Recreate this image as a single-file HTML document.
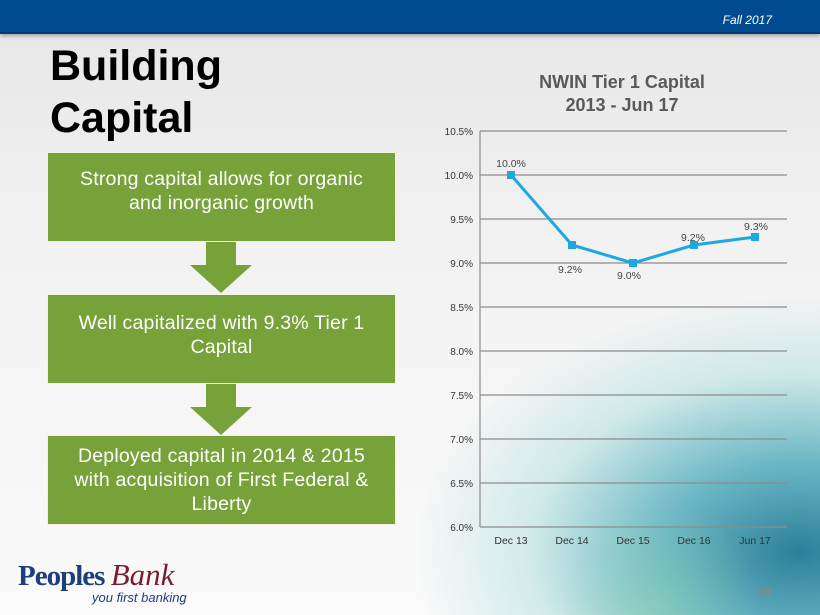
<!DOCTYPE html>
<html><head><style>
body{margin:0;width:820px;height:615px;overflow:hidden;font-family:"Liberation Sans",sans-serif;}
#pg{position:relative;width:820px;height:615px;background:linear-gradient(180deg,#e6e6e6 0%,#f2f2f2 40%,#fafafa 100%);overflow:hidden}
.bar{position:absolute;left:0;top:0;width:820px;height:32px;background:#004b8f;border-bottom:2px solid #0a3a6a;box-shadow:0 2px 4px rgba(0,0,0,.3)}
.fall{position:absolute;right:48px;top:13px;color:#fff;font-style:italic;font-size:12px}
.deco{position:absolute;left:420px;top:300px;width:400px;height:315px;background:radial-gradient(ellipse at 95% 80%,#2d7f9a 0%,#6bb7c5 25%,rgba(175,222,220,.55) 50%,rgba(255,255,255,0) 72%)}
.deco2{position:absolute;left:560px;top:500px;width:200px;height:115px;background:radial-gradient(ellipse at 50% 90%,rgba(140,210,170,.45),rgba(255,255,255,0) 70%)}
h1{position:absolute;left:50px;top:40px;margin:0;font-size:43px;line-height:52px;font-weight:bold;color:#000}
.box{position:absolute;left:47px;width:349px;height:90px;background:#77a23a;border:1px solid #eef3e3;color:#fff;font-size:19.5px;letter-spacing:0.2px;text-align:center;display:flex;align-items:center;justify-content:center;line-height:24px;box-sizing:border-box;padding:0 2px;white-space:nowrap}
.arr{position:absolute;left:190px;width:0;height:0;border-left:31px solid transparent;border-right:31px solid transparent;border-top:28px solid #77a23a}
.arrs{position:absolute;left:206px;width:30px;background:#77a23a}
.logo{position:absolute;left:18px;top:558px;font-family:"Liberation Serif",serif;font-weight:bold;font-size:29px;line-height:34px;color:#1b3f7c;letter-spacing:-1px}
.logo i{font-weight:normal;color:#7b1c2e;font-size:31px;letter-spacing:0}
.tag{position:absolute;left:92px;top:590px;font-style:italic;font-size:13px;line-height:16px;color:#1b3f7c}
.pn{position:absolute;left:756px;top:584px;font-size:13px;line-height:16px;color:#888;font-weight:bold}
</style></head><body><div id="pg">
<div class="deco"></div><div class="deco2"></div>
<div class="bar"><span class="fall">Fall 2017</span></div>
<h1>Building<br>Capital</h1>
<div class="arrs" style="top:242px;height:24px"></div><div class="arr" style="top:265px"></div>
<div class="arrs" style="top:384px;height:24px"></div><div class="arr" style="top:407px"></div>
<div class="box" style="top:152px;padding-bottom:12px">Strong capital allows for organic<br>and inorganic growth</div>
<div class="box" style="top:294px;padding-bottom:8px">Well capitalized with 9.3% Tier 1<br>Capital</div>
<div class="box" style="top:435px">Deployed capital in 2014 &amp; 2015<br>with acquisition of First Federal &amp;<br>Liberty</div>
<svg style="position:absolute;left:0;top:0" width="820" height="615" font-family="Liberation Sans, sans-serif">
<text x="622" y="88" text-anchor="middle" font-size="18" font-weight="bold" fill="#595959">NWIN Tier 1 Capital</text>
<text x="622" y="111" text-anchor="middle" font-size="18" font-weight="bold" fill="#595959">2013 - Jun 17</text>
<g stroke="#8c8c8c" stroke-width="1.2">
<line x1="480" y1="131" x2="787" y2="131"/><line x1="480" y1="175" x2="787" y2="175"/><line x1="480" y1="219" x2="787" y2="219"/><line x1="480" y1="263" x2="787" y2="263"/><line x1="480" y1="307" x2="787" y2="307"/><line x1="480" y1="351" x2="787" y2="351"/><line x1="480" y1="395" x2="787" y2="395"/><line x1="480" y1="439" x2="787" y2="439"/><line x1="480" y1="483" x2="787" y2="483"/><line x1="480" y1="527" x2="787" y2="527"/>
<line x1="480" y1="131" x2="480" y2="527"/>
</g>
<g font-size="10" fill="#333" text-anchor="end">
<text x="473" y="135">10.5%</text><text x="473" y="179">10.0%</text><text x="473" y="223">9.5%</text><text x="473" y="267">9.0%</text><text x="473" y="311">8.5%</text><text x="473" y="355">8.0%</text><text x="473" y="399">7.5%</text><text x="473" y="443">7.0%</text><text x="473" y="487">6.5%</text><text x="473" y="531">6.0%</text>
</g>
<g font-size="10.5" fill="#333" text-anchor="middle">
<text x="511" y="544">Dec 13</text><text x="572" y="544">Dec 14</text><text x="633" y="544">Dec 15</text><text x="694" y="544">Dec 16</text><text x="755" y="544">Jun 17</text>
</g>
<polyline points="511,175 572,245 633,263 694,245 755,237" fill="none" stroke="#1ea8e0" stroke-width="3"/>
<g fill="#1ea8e0"><rect x="507" y="171" width="8" height="8"/><rect x="568" y="241" width="8" height="8"/><rect x="629" y="259" width="8" height="8"/><rect x="690" y="241" width="8" height="8"/><rect x="751" y="233" width="8" height="8"/></g>
<g font-size="10.5" fill="#444" text-anchor="middle">
<text x="511" y="167">10.0%</text><text x="570" y="273">9.2%</text><text x="629" y="279">9.0%</text><text x="693" y="241">9.2%</text><text x="756" y="230">9.3%</text>
</g>
</svg>
<div class="logo">Peoples <i>Bank</i></div>
<div class="tag">you first banking</div>
<div class="pn">18</div>
</div></body></html>
